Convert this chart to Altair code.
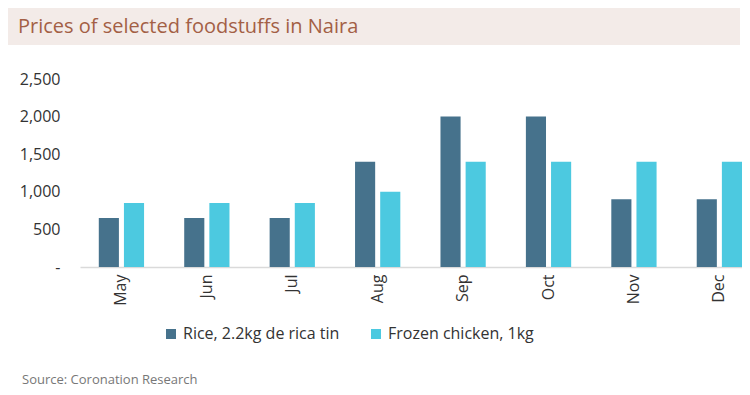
import altair as alt
import pandas as pd

months = ["May", "Jun", "Jul", "Aug", "Sep", "Oct", "Nov", "Dec"]
series = ["Rice, 2.2kg de rica tin", "Frozen chicken, 1kg"]
rice = [650, 650, 650, 1400, 2000, 2000, 900, 900]
chicken = [850, 850, 850, 1000, 1400, 1400, 1400, 1400]
colors = ["#46728C", "#4CC9E0"]
y_ticks = [0, 500, 1000, 1500, 2000, 2500]
title_text = "Prices of selected foodstuffs in Naira"
source_text = "Source: Coronation Research"

rows = []
for m, r, c in zip(months, rice, chicken):
    rows.append({"month": m, "series": series[0], "price": r})
    rows.append({"month": m, "series": series[1], "price": c})
df = pd.DataFrame(rows)

FONT = "Open Sans"

bars = alt.Chart(df).mark_bar().encode(
    x=alt.X("month:N", sort=months,
            scale=alt.Scale(paddingInner=0.47, paddingOuter=0.11, align=1),
            axis=alt.Axis(title=None, labelAngle=-90, ticks=False,
                          domainColor="#DADADA", domainWidth=1.5,
                          labelFontSize=16, labelColor="#333333",
                          labelPadding=7, labelFont=FONT)),
    xOffset=alt.XOffset("series:N", sort=series, scale=alt.Scale(paddingInner=0.2)),
    y=alt.Y("price:Q", scale=alt.Scale(domain=[0, 2500]),
            axis=alt.Axis(title=None, values=y_ticks, grid=False, ticks=False,
                          domain=False, labelFontSize=16, labelColor="#333333",
                          labelPadding=20, labelFont=FONT,
                          labelExpr="datum.value == 0 ? '-' : format(datum.value, ',')")),
    color=alt.Color("series:N", sort=series,
                    scale=alt.Scale(domain=series, range=colors),
                    legend=alt.Legend(title=None, orient="none", legendX=83, legendY=247,
                                      direction="horizontal", columns=2, columnPadding=28,
                                      symbolType="square", symbolSize=100,
                                      symbolStrokeWidth=0, labelFontSize=16,
                                      labelColor="#333333", labelFont=FONT,
                                      labelOffset=4, labelLimit=300)),
)

tdf = pd.DataFrame({"t": [title_text]})
band = alt.Chart(tdf).mark_rect(color="#F3EBE8").encode(
    x=alt.value(-72), x2=alt.value(660), y=alt.value(-71), y2=alt.value(-34))
title = alt.Chart(tdf).mark_text(align="left", baseline="alphabetic", fontSize=20,
                                  color="#A35F45", font=FONT).encode(
    x=alt.value(-62), y=alt.value(-46), text="t:N")
sdf = pd.DataFrame({"t": [source_text]})
source = alt.Chart(sdf).mark_text(align="left", baseline="alphabetic", fontSize=13,
                                   color="#777777", font=FONT).encode(
    x=alt.value(-58), y=alt.value(305), text="t:N")

chart = alt.layer(band, title, bars, source).resolve_scale(x="independent").properties(
    width=662, height=188,
    autosize=alt.AutoSizeParams(type="none"),
    padding={"left": 72, "top": 71, "right": 0, "bottom": 125},
).configure_view(stroke=None)

chart.save("out.html", embed_options={"renderer": "svg", "actions": False})
